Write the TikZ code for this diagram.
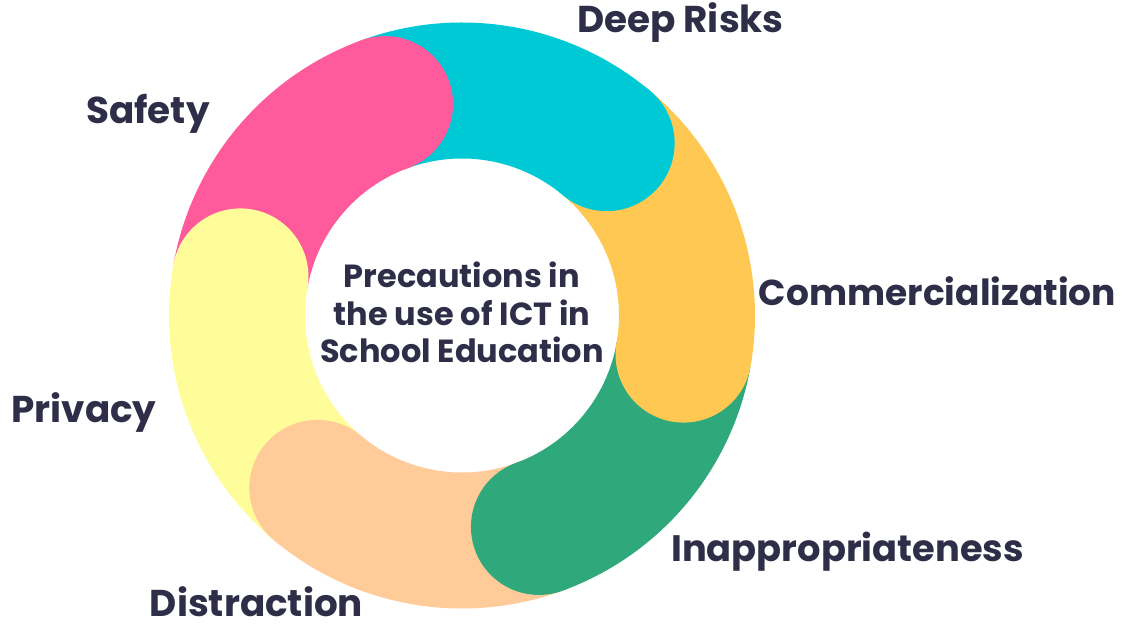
\documentclass[tikz,border=0pt]{standalone}
\usepackage{fontspec}
\setmainfont{Poppins}
\definecolor{ink}{HTML}{2E2E48}
\definecolor{segpink}{HTML}{FF5A9B}
\definecolor{segcyan}{HTML}{00C9D6}
\definecolor{segyellow}{HTML}{FFC853}
\definecolor{seggreen}{HTML}{2FA97B}
\definecolor{segpeach}{HTML}{FFCB99}
\definecolor{seglight}{HTML}{FFFD9A}
\begin{document}
\begin{tikzpicture}[x=0.75pt, y=0.75pt,
	lbl/.style={text=ink, font=\fontsize{28}{33}\selectfont\bfseries, inner sep=0pt, anchor=base}]
	\useasboundingbox (-462,-308.5) rectangle (660,315.5);
	% ring segments, clockwise
	\foreach \a/\c in {170/segpink, 110/segcyan, 50/segyellow, -10/seggreen, -70/segpeach, -130/seglight}
	{
		\draw[\c, line width=102pt] (\a:225) arc[start angle=\a, end angle=\a-60, radius=225];
	};
	% round heads
	\foreach \a/\c in {170/segpink, 110/segcyan, 50/segyellow, -10/seggreen, -70/segpeach, -130/seglight}
	{
		\fill[\c] (\a-60:225) circle[radius=68];
	};
	\node[lbl, align=center, font=\fontsize{24}{28.2}\selectfont\bfseries] (title) at (0,-47.5)
		{Precautions in\\the use of ICT in\\School Education};
	\node[lbl] (deep) at (218.5,282.5) {Deep Risks};
	\node[lbl] (safe) at (-314,191.5) {Safety};
	\node[lbl, font=\fontsize{27}{32}\selectfont\bfseries] (comm) at (475.5,9.5) {Commercialization};
	\node[lbl] (priv) at (-378,-107.5) {Privacy};
	\node[lbl, font=\fontsize{27.6}{32}\selectfont\bfseries] (inap) at (385.5,-246.5) {Inappropriateness};
	\node[lbl, text depth=0pt] (dist) at (-205.5,-301) {Distraction};
\end{tikzpicture}
\end{document}
